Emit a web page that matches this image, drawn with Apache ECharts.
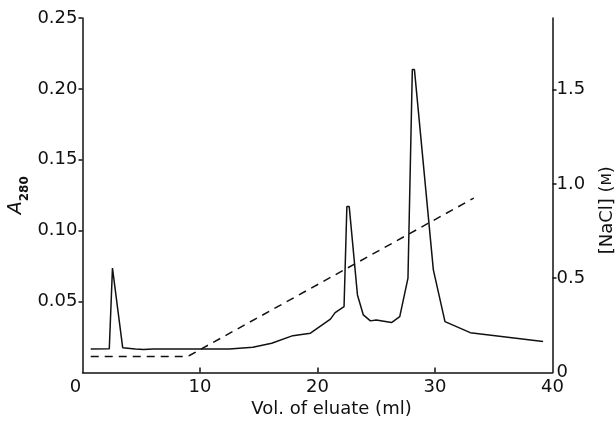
<!DOCTYPE html>
<html><head><meta charset="utf-8">
<script src="https://cdn.jsdelivr.net/npm/echarts@6/dist/echarts.min.js"></script>
<style>html,body{margin:0;padding:0;background:#fff}#c{width:616px;height:422px}</style>
</head><body><div id="c"></div>
<script>
// Absorbance trace: [volume (ml), A280]
const volumeA = [0.7, 2.28, 2.55, 3.42, 4.5, 5.2, 6, 12.5, 14.5, 16.1, 17.9, 19.4, 21.1, 21.5, 22.26, 22.5, 22.7, 23.4, 23.9, 24.5, 25.0, 26.3, 27.0, 27.7, 28.07, 28.25, 29.86, 30.85, 33.0, 39.2];
const absorbance = [0.0166, 0.0168, 0.0736, 0.0175, 0.0165, 0.0162, 0.0166, 0.0166, 0.0178, 0.0206, 0.026, 0.0277, 0.0376, 0.0422, 0.0465, 0.117, 0.117, 0.0547, 0.0406, 0.0364, 0.0371, 0.0352, 0.0394, 0.0665, 0.2136, 0.2136, 0.0724, 0.0359, 0.0281, 0.0218];
// NaCl gradient: [volume (ml), M]
const volumeNaCl = [0.7, 8.8, 9.1, 33.3];
const nacl = [0.085, 0.085, 0.09, 0.925];
const xTicks = [0, 10, 20, 30, 40];
const leftTicks = [0.05, 0.10, 0.15, 0.20, 0.25];
const rightTicks = [0, 0.5, 1.0, 1.5];

const FONT = 'DejaVu Sans';
const chart = echarts.init(document.getElementById('c'));
chart.setOption({
  animation: false,
  grid: {left: 82.5, right: 63.5, top: 18, bottom: 49.5, containLabel: false, outerBoundsMode: 'none'},
  xAxis: {
    type: 'value', min: 0, max: 40, interval: 10,
    name: 'Vol. of eluate (ml)', nameLocation: 'middle', nameGap: 28, nameMoveOverlap: false,
    nameTextStyle: {fontFamily: FONT, fontSize: 18, color: '#111', padding: [0, 0, 0, 28]},
    axisLine: {lineStyle: {color: '#111', width: 1.5}},
    axisTick: {inside: true, length: 5, lineStyle: {color: '#111', width: 1.5}, customValues: [10, 20, 30]},
    axisLabel: {
      customValues: xTicks, margin: 6, fontFamily: FONT, fontSize: 18, color: '#111',
      formatter: v => v === 0 ? '{z|0}' : String(v),
      rich: {z: {fontFamily: FONT, fontSize: 18, color: '#111', padding: [0, 14, 0, 0]}}
    },
    splitLine: {show: false}
  },
  yAxis: [{
    type: 'value', min: 0, max: 0.25, interval: 0.05, position: 'left',
    name: '{a|A}{s|280}', nameLocation: 'middle', nameGap: 52, nameRotate: 90, nameMoveOverlap: false,
    nameTextStyle: {rich: {
      a: {fontFamily: FONT, fontSize: 19, fontStyle: 'italic', color: '#111', lineHeight: 24, verticalAlign: 'top'},
      s: {fontFamily: FONT, fontSize: 12, fontWeight: 'bold', color: '#111', lineHeight: 24, verticalAlign: 'bottom'}
    }},
    axisLine: {show: true, lineStyle: {color: '#111', width: 1.5}},
    axisTick: {show: true, length: 4, customValues: leftTicks, lineStyle: {color: '#111', width: 1.5}},
    axisLabel: {customValues: leftTicks, margin: 5, fontFamily: FONT, fontSize: 18, color: '#111',
      formatter: v => v.toFixed(2)},
    splitLine: {show: false}
  }, {
    type: 'value', min: 0, max: 1.88, position: 'right',
    name: '[NaCl] ({m|M})', nameLocation: 'middle', nameGap: 46, nameRotate: 90, nameMoveOverlap: false,
    nameTextStyle: {fontFamily: FONT, fontSize: 18, color: '#111', padding: [0, 30, 0, 0],
      rich: {m: {fontFamily: FONT, fontSize: 14, color: '#111'}}},
    axisLine: {show: true, lineStyle: {color: '#111', width: 1.5}},
    axisTick: {show: true, length: 4, customValues: [0.5, 1.0, 1.5], lineStyle: {color: '#111', width: 1.5}},
    axisLabel: {customValues: rightTicks, margin: 4, fontFamily: FONT, fontSize: 18, color: '#111',
      formatter: v => v === 0 ? '0' : v.toFixed(1)},
    splitLine: {show: false}
  }],
  series: [{
    type: 'line', yAxisIndex: 0, symbol: 'none',
    data: volumeA.map((x, i) => [x, absorbance[i]]),
    lineStyle: {color: '#111', width: 1.5}
  }, {
    type: 'line', yAxisIndex: 1, symbol: 'none',
    data: volumeNaCl.map((x, i) => [x, nacl[i]]),
    lineStyle: {color: '#111', width: 1.5, type: [8, 6]}
  }]
});
</script></body></html>
